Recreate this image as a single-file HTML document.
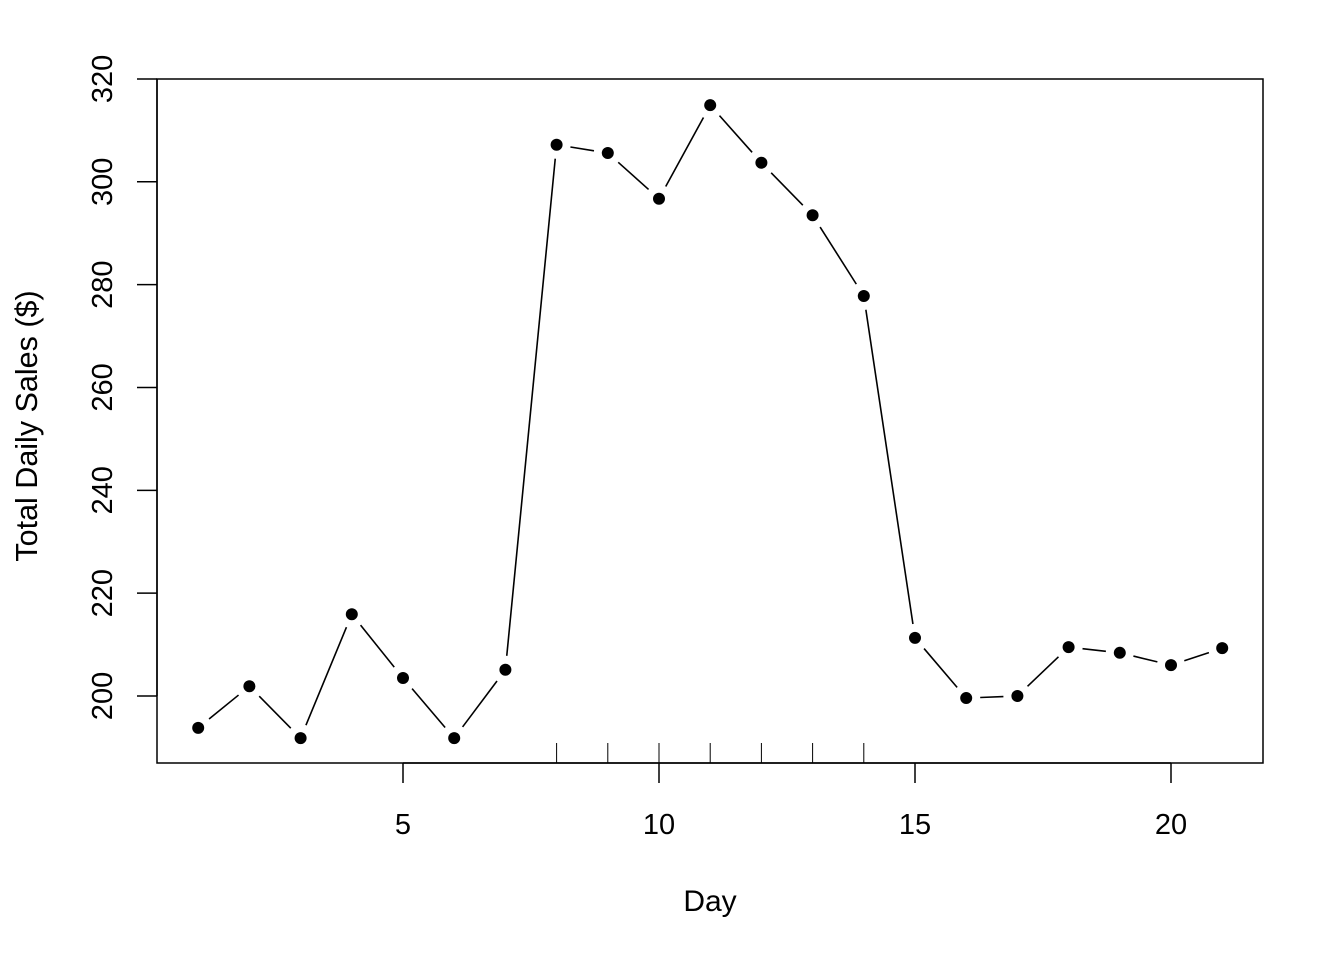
<!DOCTYPE html>
<html><head><meta charset="utf-8"><style>
body{margin:0;background:#fff}
text{font-family:"Liberation Sans",Arial,sans-serif;fill:#000}
</style></head><body>
<svg id="chart" width="1344" height="960" viewBox="0 0 1344 960" xmlns="http://www.w3.org/2000/svg">
<rect x="157" y="79" width="1106" height="684" fill="none" stroke="#000" stroke-width="1.5"/>
<g id="marks"></g>
<text x="710" y="911" font-size="30" text-anchor="middle">Day</text>
<text transform="translate(37,426) rotate(-90)" font-size="30.5" text-anchor="middle">Total Daily Sales ($)</text>
</svg>
<script>
const days=[1,2,3,4,5,6,7,8,9,10,11,12,13,14,15,16,17,18,19,20,21];
const sales=[193.8,201.9,191.8,215.9,203.5,191.8,205.1,307.2,305.6,296.7,314.9,303.7,293.5,277.8,211.3,199.6,200.0,209.5,208.4,206.0,209.3];
const xTicks=[5,10,15,20];
const yTicks=[200,220,240,260,280,300,320];
const rugDays=[8,9,10,11,12,13,14];
const NS='http://www.w3.org/2000/svg';
const g=document.getElementById('marks');
function X(d){return 403+(d-5)*51.2;}
function Y(v){return 696-(v-200)*5.142;}
function mk(t,a){const e=document.createElementNS(NS,t);for(const k in a)e.setAttribute(k,a[k]);g.appendChild(e);return e;}
let ax=mk('line',{x1:157,y1:Y(200),x2:157,y2:Y(320),stroke:'#000','stroke-width':1.5});


yTicks.forEach(v=>{
 const l=mk('line',{x1:137,y1:Y(v),x2:157,y2:Y(v),stroke:'#000','stroke-width':1.5});
 
 
 const t=mk('text',{transform:`translate(112,${Y(v)}) rotate(-90)`,'font-size':29,'text-anchor':'middle'});
 t.textContent=v;
 
 
});
let bx=mk('line',{x1:X(5),y1:763,x2:X(20),y2:763,stroke:'#000','stroke-width':1.5});


xTicks.forEach(v=>{
 const l=mk('line',{x1:X(v),y1:763,x2:X(v),y2:783,stroke:'#000','stroke-width':1.5});
 
 
 const t=mk('text',{x:X(v),y:834,'font-size':29,'text-anchor':'middle'});
 t.textContent=v;
 
 
});
rugDays.forEach(d=>{
 const l=mk('line',{x1:X(d),y1:743,x2:X(d),y2:763,stroke:'#000','stroke-width':1});
 
 
});
const gap=14;
for(let i=0;i<days.length-1;i++){
 const x1=X(days[i]),y1=Y(sales[i]),x2=X(days[i+1]),y2=Y(sales[i+1]);
 const L=Math.hypot(x2-x1,y2-y1);if(L<=2*gap)continue;
 const ux=(x2-x1)/L,uy=(y2-y1)/L;
 const l=mk('line',{x1:x1+ux*gap,y1:y1+uy*gap,x2:x2-ux*gap,y2:y2-uy*gap,stroke:'#000','stroke-width':1.6});
 
 
}
days.forEach((d,i)=>{
 const c=mk('circle',{cx:X(d),cy:Y(sales[i]),r:6,fill:'#000'});
 
 
});
</script>
</body></html>
